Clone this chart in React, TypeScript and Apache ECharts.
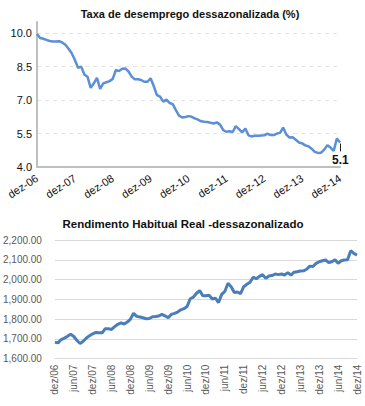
import React, { useEffect, useRef } from "react";
import * as echarts from "echarts";

const MONTHS = ["jan", "fev", "mar", "abr", "mai", "jun", "jul", "ago", "set", "out", "nov", "dez"];
// monthly from dez/06 to dez/14
const periods: { m: string; y: string }[] = [];
for (let k = 0; k <= 96; k++) {
  const mi = (11 + k) % 12;
  const yr = 2006 + Math.floor((11 + k) / 12);
  periods.push({ m: MONTHS[mi], y: String(yr).slice(2) });
}
const catsTop = periods.map((p) => `${p.m}-${p.y}`);
const catsBottom = periods.map((p) => `${p.m}/${p.y}`);

const unemployment = [
  9.96, 9.78, 9.75, 9.7, 9.65, 9.63, 9.63, 9.64, 9.58, 9.48, 9.3, 9.1,
  8.8, 8.45, 8.5, 8.15, 8.05, 7.55, 7.75, 8.0, 7.5, 7.75, 7.8, 7.85,
  7.95, 8.35, 8.3, 8.4, 8.42, 8.28, 8.05, 7.93, 7.93, 7.9, 7.82, 7.82,
  7.98, 7.62, 7.22, 7.15, 6.93, 7.02, 6.87, 6.82, 6.55, 6.3, 6.22, 6.24,
  6.28, 6.25, 6.18, 6.12, 6.05, 6.03, 6.02, 5.98, 5.95, 6.0, 5.9, 5.65,
  5.58, 5.6, 5.57, 5.83, 5.7, 5.55, 5.73, 5.42, 5.37, 5.4, 5.4, 5.41,
  5.42, 5.5, 5.43, 5.43, 5.5, 5.53, 5.77, 5.45, 5.32, 5.33, 5.22, 5.1,
  5.06, 4.97, 4.93, 4.82, 4.68, 4.63, 4.64, 4.78, 4.98, 4.87, 4.72, 5.28,
  5.1,
];

const income = [
  1683, 1680, 1697, 1704, 1713, 1724, 1712, 1692, 1677, 1688, 1705, 1716,
  1726, 1733, 1731, 1731, 1752, 1751, 1748, 1762, 1774, 1781, 1775, 1785,
  1800, 1830, 1814, 1811, 1807, 1802, 1803, 1812, 1813, 1816, 1824, 1817,
  1807, 1824, 1829, 1836, 1847, 1853, 1864, 1903, 1911, 1931, 1944, 1918,
  1918, 1921, 1902, 1906, 1884, 1925, 1940, 1981, 1964, 1935, 1937, 1929,
  1964, 1976, 1986, 2012, 2004, 2016, 2025, 2006, 2018, 2020, 2028, 2025,
  2028, 2023, 2035, 2023, 2037, 2040, 2043, 2044, 2052, 2068, 2066, 2082,
  2090, 2095, 2099, 2086, 2090, 2100, 2082, 2095, 2099, 2100, 2146, 2132,
  2124,
];

const topTicks = { min: 4, max: 10.5, interval: 1.5 };
const bottomTicks = { min: 1600, max: 2200, interval: 100 };

const FONT = "'Liberation Sans', Arial, sans-serif";

export default function App() {
  const ref = useRef<HTMLDivElement>(null);
  useEffect(() => {
    document.body.style.margin = "0";
    if (!ref.current) return;
    const chart = echarts.init(ref.current, null, { renderer: "svg" });
    const lastIdx = unemployment.length - 1;
    const lastVal = unemployment[lastIdx];
    chart.setOption({
      animation: false,
      textStyle: { fontFamily: FONT },
      graphic: [
        {
          type: "text",
          x: 190,
          y: 14,
          style: {
            text: "Taxa de desemprego dessazonalizada (%)",
            font: `bold 11px ${FONT}`,
            fill: "#111",
            align: "center",
            verticalAlign: "middle",
          },
        },
        {
          type: "text",
          x: 183,
          y: 224,
          style: {
            text: "Rendimento Habitual Real -dessazonalizado",
            font: `bold 11.5px ${FONT}`,
            fill: "#111",
            align: "center",
            verticalAlign: "middle",
          },
        },
      ],
      grid: [
        { left: 37, right: 25, top: 22, height: 145 },
        { left: 52, right: 8, top: 240, height: 118.7 },
      ],
      xAxis: [
        {
          type: "category",
          gridIndex: 0,
          data: catsTop,
          boundaryGap: false,
          axisLine: { lineStyle: { color: "#bfbfbf", width: 2 } },
          axisTick: { show: false },
          axisLabel: {
            interval: 11,
            rotate: 33,
            margin: 10,
            fontSize: 11,
            color: "#111",
            fontFamily: FONT,
          },
        },
        {
          type: "category",
          gridIndex: 1,
          data: catsBottom,
          boundaryGap: false,
          axisLine: { lineStyle: { color: "#d9d9d9", width: 1 } },
          axisTick: { show: false },
          axisLabel: {
            interval: 5,
            rotate: 90,
            margin: 6,
            fontSize: 10,
            color: "#595959",
            fontFamily: FONT,
          },
        },
      ],
      yAxis: [
        {
          type: "value",
          gridIndex: 0,
          ...topTicks,
          axisLine: { show: true, lineStyle: { color: "#bfbfbf", width: 2 } },
          axisTick: { show: false },
          axisLabel: {
            showMaxLabel: false,
            margin: 5,
            fontSize: 11,
            color: "#111",
            fontFamily: FONT,
            formatter: (v: number) => v.toFixed(1),
          },
          splitLine: {
            show: true,
            showMaxLine: false,
            lineStyle: { color: "#e4e4e4", type: [4, 4], width: 1 },
          },
        },
        {
          type: "value",
          gridIndex: 1,
          ...bottomTicks,
          axisLine: { show: false },
          axisTick: { show: false },
          axisLabel: {
            margin: 13,
            fontSize: 10,
            color: "#595959",
            fontFamily: FONT,
            formatter: (v: number) =>
              v.toLocaleString("en-US", { minimumFractionDigits: 2, maximumFractionDigits: 2 }),
          },
          splitLine: { show: true, lineStyle: { color: "#d9d9d9", width: 1 } },
        },
      ],
      series: [
        {
          type: "line",
          xAxisIndex: 0,
          yAxisIndex: 0,
          data: unemployment,
          showSymbol: false,
          symbol: "none",
          lineStyle: { color: "#5b8fd6", width: 2.5 },
          itemStyle: { color: "#5b8fd6" },
          endLabel: {
            show: true,
            formatter: (p: any) => Number(p.value).toFixed(1),
            fontFamily: FONT,
            fontSize: 12,
            fontWeight: "bold",
            color: "#111",
            distance: 0,
            offset: [-8, 18],
          },
          markLine: {
            silent: true,
            symbol: "none",
            label: { show: false },
            lineStyle: { color: "#222", width: 1, type: "solid" },
            data: [
              [
                { coord: [lastIdx, lastVal - 0.05] },
                { coord: [lastIdx, lastVal - 0.4] },
              ],
            ],
          },
        },
        {
          type: "line",
          xAxisIndex: 1,
          yAxisIndex: 1,
          data: income,
          showSymbol: false,
          symbol: "none",
          lineStyle: { color: "#4a7ebb", width: 3 },
          itemStyle: { color: "#4a7ebb" },
        },
      ],
    });
    return () => chart.dispose();
  }, []);
  return <div ref={ref} style={{ width: 365, height: 406 }} />;
}
